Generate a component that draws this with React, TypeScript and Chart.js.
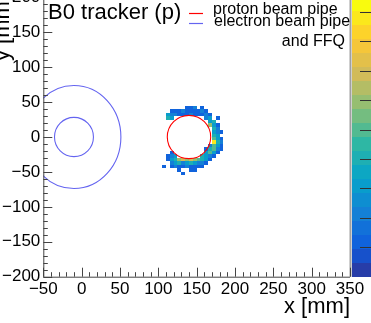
import { useEffect, useRef } from 'react';
import { Chart, registerables } from 'chart.js';

Chart.register(...registerables);

const FONT = "'Liberation Sans', Arial, Helvetica, sans-serif";

// axis ranges
const xMin = -50;
const xMax = 350;
const yMin = -200;
const yMax = 200;
const tickStep = 50;
const minorStep = 10;

// 2D histogram (5 mm bins): lower bin edges and bin contents
const binWidth = 5;
const xBins = [105, 110, 115, 120, 125, 130, 135, 140, 145, 150, 155, 160, 165, 170, 175, 180];
const yRows = [40, 35, 30, 25, 20, 15, 10, 5, 0, -5, -10, -15, -20, -25, -30, -35, -40, -45, -50, -55];
const counts = [
  [0, 0, 0, 0, 0, 0, 1, 1, 2, 0, 1, 0, 0, 0, 0, 0],
  [0, 0, 1, 1, 1, 2, 1, 1, 1, 1, 2, 1, 0, 0, 0, 0],
  [0, 3, 2, 2, 1, 1, 1, 2, 1, 1, 1, 2, 1, 0, 0, 0],
  [0, 4, 3, 0, 0, 0, 0, 0, 0, 0, 0, 2, 3, 0, 1, 0],
  [0, 0, 0, 0, 0, 0, 0, 0, 0, 0, 0, 0, 3, 4, 0, 0],
  [0, 0, 0, 0, 0, 0, 0, 0, 0, 0, 0, 0, 6, 3, 1, 0],
  [0, 0, 0, 0, 0, 0, 0, 0, 0, 0, 0, 0, 0, 4, 2, 0],
  [0, 0, 0, 0, 0, 0, 0, 0, 0, 0, 0, 0, 0, 3, 2, 1],
  [0, 0, 0, 0, 0, 0, 0, 0, 0, 0, 0, 0, 0, 4, 3, 0],
  [0, 0, 0, 0, 0, 0, 0, 0, 0, 0, 0, 0, 0, 5, 3, 1],
  [0, 0, 0, 0, 0, 0, 0, 0, 0, 0, 0, 0, 0, 9, 4, 2],
  [0, 0, 0, 0, 0, 0, 0, 0, 0, 0, 0, 0, 2, 5, 3, 1],
  [0, 0, 0, 0, 0, 0, 0, 0, 0, 0, 0, 1, 4, 5, 2, 1],
  [0, 0, 1, 0, 0, 0, 0, 0, 0, 0, 0, 3, 5, 3, 1, 0],
  [0, 1, 2, 3, 0, 0, 0, 0, 0, 0, 4, 3, 2, 1, 0, 0],
  [0, 1, 3, 4, 6, 7, 6, 7, 6, 5, 4, 3, 1, 0, 0, 0],
  [0, 0, 2, 3, 4, 2, 3, 4, 3, 2, 2, 1, 0, 0, 0, 0],
  [1, 0, 1, 2, 1, 1, 2, 1, 1, 1, 1, 0, 0, 0, 0, 0],
  [0, 0, 0, 0, 1, 0, 0, 1, 1, 0, 0, 0, 0, 0, 0, 0],
  [0, 0, 0, 0, 0, 1, 0, 0, 0, 0, 0, 0, 0, 0, 0, 0],
];

// colour (z) axis
const zMin = 0;
const zMax = 9.5;
const zTicks = [1, 2, 3, 4, 5, 6, 7, 8, 9];
const nContours = 20;

// beam pipe outlines (data units)
const pipeCenterX = [140, -10, -10];
const pipeCenterY = [0, 0, 0];
const pipeRadiusX = [28.3, 25.4, 61.2];
const pipeRadiusY = [31, 28.1, 73.8];
const pipeKind = [0, 1, 1];

// legend / titles
const titleText = 'B0 tracker (p)';
const legendLabels = ['proton beam pipe', 'electron beam pipe'];
const legendExtra = 'and FFQ';
const xTitle = 'x [mm]';
const yTitle = 'y [mm]';

const pipeColors = ['#ff0000', '#6464f0'];

// ROOT kBird palette
const birdStops = [0, 0.125, 0.25, 0.375, 0.5, 0.625, 0.75, 0.875, 1];
const birdR = [0.2082, 0.0592, 0.078, 0.0232, 0.1802, 0.5301, 0.8186, 0.9956, 0.9764];
const birdG = [0.1664, 0.3599, 0.5041, 0.6419, 0.7178, 0.7492, 0.7328, 0.7862, 0.9832];
const birdB = [0.5293, 0.8684, 0.8385, 0.7914, 0.6425, 0.4662, 0.3499, 0.1968, 0.0539];

function bird(f: number): string {
  const t = Math.max(0, Math.min(1, f));
  let i = 0;
  while (i < birdStops.length - 2 && t > birdStops[i + 1]) i++;
  const u = (t - birdStops[i]) / (birdStops[i + 1] - birdStops[i]);
  const c = (a: number[]) => Math.round(255 * (a[i] + (a[i + 1] - a[i]) * u));
  return `rgb(${c(birdR)},${c(birdG)},${c(birdB)})`;
}

function bandColor(band: number): string {
  const idx = Math.floor(((band + 0.99) * 255) / nContours);
  return bird(idx / 254);
}

function zColor(z: number): string {
  let band = Math.floor(((z - zMin) / (zMax - zMin)) * nContours);
  band = Math.max(0, Math.min(nContours - 1, band));
  return bandColor(band);
}

const fmt = (v: number | string) => {
  const n = Number(v);
  return n < 0 ? '\u2212' + Math.abs(n) : String(n);
};

const rootPlugin = {
  id: 'rootStyle',
  beforeDatasetsDraw(chart: any) {
    const { ctx, chartArea: a } = chart;
    const xs = chart.scales.x;
    const ys = chart.scales.y;
    ctx.save();
    ctx.beginPath();
    ctx.rect(a.left, a.top, a.right - a.left, a.bottom - a.top);
    ctx.clip();
    yRows.forEach((yv, r) => {
      xBins.forEach((xv, c) => {
        const z = counts[r][c];
        if (!z) return;
        const x0 = Math.round(xs.getPixelForValue(xv));
        const x1 = Math.round(xs.getPixelForValue(xv + binWidth));
        const y0 = Math.round(ys.getPixelForValue(yv + binWidth));
        const y1 = Math.round(ys.getPixelForValue(yv));
        ctx.fillStyle = zColor(z);
        ctx.fillRect(x0, y0, x1 - x0, y1 - y0);
      });
    });
    pipeCenterX.forEach((cx, i) => {
      const px = xs.getPixelForValue(cx);
      const py = ys.getPixelForValue(pipeCenterY[i]);
      const rx = Math.abs(xs.getPixelForValue(cx + pipeRadiusX[i]) - px);
      const ry = Math.abs(ys.getPixelForValue(pipeCenterY[i] + pipeRadiusY[i]) - py);
      ctx.beginPath();
      ctx.ellipse(px, py, rx, ry, 0, 0, Math.PI * 2);
      ctx.strokeStyle = pipeColors[pipeKind[i]];
      ctx.lineWidth = 1.1;
      ctx.stroke();
    });
    ctx.restore();
  },
  afterDraw(chart: any) {
    const { ctx, chartArea: a } = chart;
    const xs = chart.scales.x;
    const ys = chart.scales.y;
    ctx.save();
    // right frame line
    ctx.strokeStyle = '#a0a0a0';
    ctx.lineWidth = 2;
    ctx.beginPath();
    ctx.moveTo(a.right + 0.5, a.top);
    ctx.lineTo(a.right + 0.5, a.bottom);
    ctx.stroke();
    // axes
    ctx.strokeStyle = '#444';
    ctx.lineWidth = 1;
    ctx.beginPath();
    ctx.moveTo(a.left + 0.5, a.top);
    ctx.lineTo(a.left + 0.5, a.bottom + 0.5);
    ctx.lineTo(a.right, a.bottom + 0.5);
    ctx.stroke();
    ctx.beginPath();
    for (let v = xMin; v <= xMax; v += minorStep) {
      const p = Math.round(xs.getPixelForValue(v)) + 0.5;
      const len = v % tickStep === 0 ? 9 : 4.5;
      ctx.moveTo(p, a.bottom);
      ctx.lineTo(p, a.bottom - len);
    }
    for (let v = yMin; v <= yMax; v += minorStep) {
      const p = Math.round(ys.getPixelForValue(v)) + 0.5;
      const len = v % tickStep === 0 ? 9 : 4.5;
      ctx.moveTo(a.left, p);
      ctx.lineTo(a.left + len, p);
    }
    ctx.stroke();

    // colour bar
    const cbLeft = a.right + 2;
    const cbRight = chart.width;
    const bandH = (a.bottom - a.top) / nContours;
    for (let b = 0; b < nContours; b++) {
      const yb = a.bottom - b * bandH;
      ctx.fillStyle = bandColor(b);
      ctx.fillRect(cbLeft, Math.round(yb - bandH), cbRight - cbLeft, Math.round(yb) - Math.round(yb - bandH));
    }
    ctx.strokeStyle = '#333';
    ctx.lineWidth = 1;
    ctx.beginPath();
    zTicks.forEach((z) => {
      const p = Math.round(a.bottom - ((z - zMin) / (zMax - zMin)) * (a.bottom - a.top)) + 0.5;
      ctx.moveTo(cbRight, p);
      ctx.lineTo(cbRight - 11, p);
    });
    ctx.stroke();

    // texts
    ctx.fillStyle = '#000';
    ctx.textBaseline = 'alphabetic';
    ctx.font = `22px ${FONT}`;
    ctx.textAlign = 'left';
    ctx.fillText(titleText, 48, 22);

    ctx.font = `16px ${FONT}`;
    ctx.fillText(legendLabels[0], 213, 17);
    ctx.fillText(legendLabels[1], 214, 28.5);
    ctx.textAlign = 'right';
    ctx.fillText(legendExtra, 345, 48.5);
    ctx.lineWidth = 1.2;
    ctx.strokeStyle = pipeColors[0];
    ctx.beginPath();
    ctx.moveTo(189, 16.5);
    ctx.lineTo(203, 16.5);
    ctx.stroke();
    ctx.strokeStyle = pipeColors[1];
    ctx.beginPath();
    ctx.moveTo(189, 26.5);
    ctx.lineTo(203, 26.5);
    ctx.stroke();

    ctx.font = `22px ${FONT}`;
    ctx.textAlign = 'right';
    ctx.fillText(xTitle, 350, 316);
    ctx.save();
    ctx.translate(8.5, -2);
    ctx.rotate(-Math.PI / 2);
    ctx.textAlign = 'right';
    ctx.fillText(yTitle, 0, 0);
    ctx.restore();
    ctx.restore();
  },
};

export default function App() {
  const canvasRef = useRef<HTMLCanvasElement | null>(null);
  useEffect(() => {
    const canvas = canvasRef.current;
    if (!canvas) return;
    const chart = new Chart(canvas, {
      type: 'scatter',
      data: { datasets: [{ data: [], pointRadius: 0 }] },
      options: {
        responsive: false,
        animation: false,
        devicePixelRatio: 1,
        events: [],
        layout: { padding: { left: 0, top: 0.3, right: 21, bottom: 0 } },
        plugins: {
          legend: { display: false },
          tooltip: { enabled: false },
          title: { display: false },
        },
        scales: {
          x: {
            type: 'linear',
            min: xMin,
            max: xMax,
            grid: { display: false, drawTicks: false },
            border: { display: false },
            ticks: {
              stepSize: tickStep,
              padding: 2,
              autoSkip: false,
              maxRotation: 0,
              color: '#000',
              font: { family: FONT, size: 17 },
              callback: fmt,
            },
            afterFit: (s: any) => {
              s.height = 46.3;
              s.paddingLeft = 0;
              s.paddingRight = 0;
            },
          },
          y: {
            type: 'linear',
            min: yMin,
            max: yMax,
            grid: { display: false, drawTicks: false },
            border: { display: false },
            ticks: {
              stepSize: tickStep,
              padding: 3,
              autoSkip: false,
              color: '#000',
              font: { family: FONT, size: 17 },
              callback: fmt,
            },
            afterFit: (s: any) => {
              s.width = 43.3;
              s.paddingTop = 0;
              s.paddingBottom = 0;
            },
          },
        },
      } as any,
      plugins: [rootPlugin],
    });
    return () => chart.destroy();
  }, []);
  return (
    <div style={{ position: 'absolute', left: 0, top: -3, width: 371, height: 326 }}>
      <canvas ref={canvasRef} width={371} height={326} style={{ display: 'block', width: 371, height: 326 }} />
    </div>
  );
}
